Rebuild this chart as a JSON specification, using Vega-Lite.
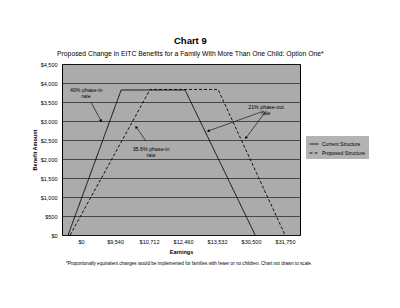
{
  "$schema": "https://vega.github.io/schema/vega-lite/v6.json",
  "background": "white",
  "padding": {"left": 31, "top": 36, "right": 5, "bottom": 5},
  "title": {
    "text": "Chart 9",
    "subtitle": "Proposed Change in EITC Benefits for a Family With More Than One Child:  Option One*",
    "font": "Liberation Sans",
    "fontSize": 9.5,
    "fontWeight": "bold",
    "color": "black",
    "subtitleFont": "Liberation Sans",
    "subtitleFontSize": 6.8,
    "subtitleColor": "black",
    "subtitlePadding": 5,
    "anchor": "middle",
    "dx": -10,
    "offset": 4
  },
  "datasets": {
    "lines": [
      {"structure": "Current Structure", "pos": -0.38, "benefit": 0},
      {"structure": "Current Structure", "pos": 1.18, "benefit": 3816},
      {"structure": "Current Structure", "pos": 3.06, "benefit": 3816},
      {"structure": "Current Structure", "pos": 5.12, "benefit": 0},
      {"structure": "Proposed Structure", "pos": -0.32, "benefit": 0},
      {"structure": "Proposed Structure", "pos": 2.03, "benefit": 3830},
      {"structure": "Proposed Structure", "pos": 4.03, "benefit": 3830},
      {"structure": "Proposed Structure", "pos": 6.0, "benefit": 0}
    ],
    "arrows": [
      {"x": 0.29, "y": 3500, "x2": 0.59, "y2": 3000},
      {"x": 1.91, "y": 2474, "x2": 1.62, "y2": 2842},
      {"x": 5.38, "y": 3263, "x2": 3.74, "y2": 2737},
      {"x": 5.44, "y": 3263, "x2": 4.85, "y2": 2553}
    ],
    "notes": [
      {"label": ["40% phase-in", "rate"], "pos": 0.15, "benefit": 3813},
      {"label": ["35.6% phase-in", "rate"], "pos": 2.06, "benefit": 2263},
      {"label": ["21% phase-out", "rate"], "pos": 5.44, "benefit": 3368}
    ]
  },
  "vconcat": [
    {
      "width": 238,
      "height": 171,
      "title": {
        "text": "*Proportionally equivalent changes would be implemented for families with fewer or no children.  Chart not drawn to scale.",
        "orient": "bottom",
        "anchor": "middle",
        "font": "Liberation Sans",
        "fontSize": 4.6,
        "fontWeight": "normal",
        "color": "black",
        "dx": 8,
        "offset": 6
      },
      "layer": [
        {
          "data": {"name": "lines"},
          "mark": {"type": "line", "color": "black", "strokeWidth": 0.9},
          "encoding": {
            "x": {
              "field": "pos", "type": "quantitative",
              "scale": {"domain": [-0.56, 6.44], "nice": false, "zero": false},
              "axis": {
                "title": "Earnings",
                "values": [0, 1, 2, 3, 4, 5, 6],
                "tickCount": 20,
                "labelExpr": "['$0','$9,540','$10,712','$12,460','$13,532','$30,500','$31,750'][datum.value]",
                "labelOverlap": false,
                "grid": false,
                "labelPadding": 4,
                "titlePadding": 5
              }
            },
            "y": {
              "field": "benefit", "type": "quantitative",
              "scale": {"domain": [0, 4500], "nice": false},
              "axis": {
                "title": "Benefit Amount",
                "values": [0, 500, 1000, 1500, 2000, 2500, 3000, 3500, 4000, 4500],
                "tickCount": 20,
                "format": "$,.0f",
                "labelOverlap": false,
                "grid": true,
                "gridColor": "#1a1a1a",
                "gridWidth": 0.7,
                "gridOpacity": 1,
                "labelPadding": 5,
                "titlePadding": 3
              }
            },
            "strokeDash": {
              "field": "structure", "type": "nominal",
              "scale": {"domain": ["Current Structure", "Proposed Structure"], "range": [[1, 0], [3, 2]]},
              "legend": {
                "orient": "none",
                "legendX": 244,
                "legendY": 72,
                "title": null,
                "fillColor": "#b3b3b3",
                "padding": 3,
                "labelFont": "Liberation Sans",
                "labelFontSize": 5,
                "labelColor": "black",
                "symbolType": "stroke",
                "symbolStrokeColor": "black",
                "symbolSize": 80,
                "symbolStrokeWidth": 0.9,
                "rowPadding": 1,
                "labelOffset": 3
              }
            }
          }
        },
        {
          "data": {"name": "arrows"},
          "mark": {"type": "rule", "color": "black", "strokeWidth": 0.6},
          "encoding": {
            "x": {"field": "x", "type": "quantitative"},
            "y": {"field": "y", "type": "quantitative"},
            "x2": {"field": "x2"},
            "y2": {"field": "y2"}
          }
        },
        {
          "data": {"name": "arrows"},
          "transform": [
            {"calculate": "atan2((datum.x2 - datum.x) * 34, (datum.y2 - datum.y) * 0.038) * 180 / PI", "as": "ang"}
          ],
          "mark": {"type": "point", "shape": "triangle-up", "filled": true, "color": "black", "size": 10, "opacity": 1},
          "encoding": {
            "x": {"field": "x2", "type": "quantitative"},
            "y": {"field": "y2", "type": "quantitative"},
            "angle": {"field": "ang", "type": "quantitative", "scale": null}
          }
        },
        {
          "data": {"name": "notes"},
          "mark": {"type": "text", "font": "Liberation Sans", "fontSize": 5.3, "color": "black", "align": "center", "baseline": "middle", "lineHeight": 6},
          "encoding": {
            "x": {"field": "pos", "type": "quantitative"},
            "y": {"field": "benefit", "type": "quantitative"},
            "text": {"field": "label"}
          }
        }
      ]
    }
  ],
  "config": {
    "font": "Liberation Sans",
    "view": {"fill": "#ababab", "stroke": "black", "strokeWidth": 1},
    "axis": {
      "labelFont": "Liberation Sans",
      "titleFont": "Liberation Sans",
      "labelColor": "black",
      "titleColor": "black",
      "labelFontSize": 5.5,
      "titleFontSize": 5.5,
      "titleFontWeight": "bold",
      "ticks": false,
      "domain": false
    },
    "concat": {"spacing": 0}
  }
}
